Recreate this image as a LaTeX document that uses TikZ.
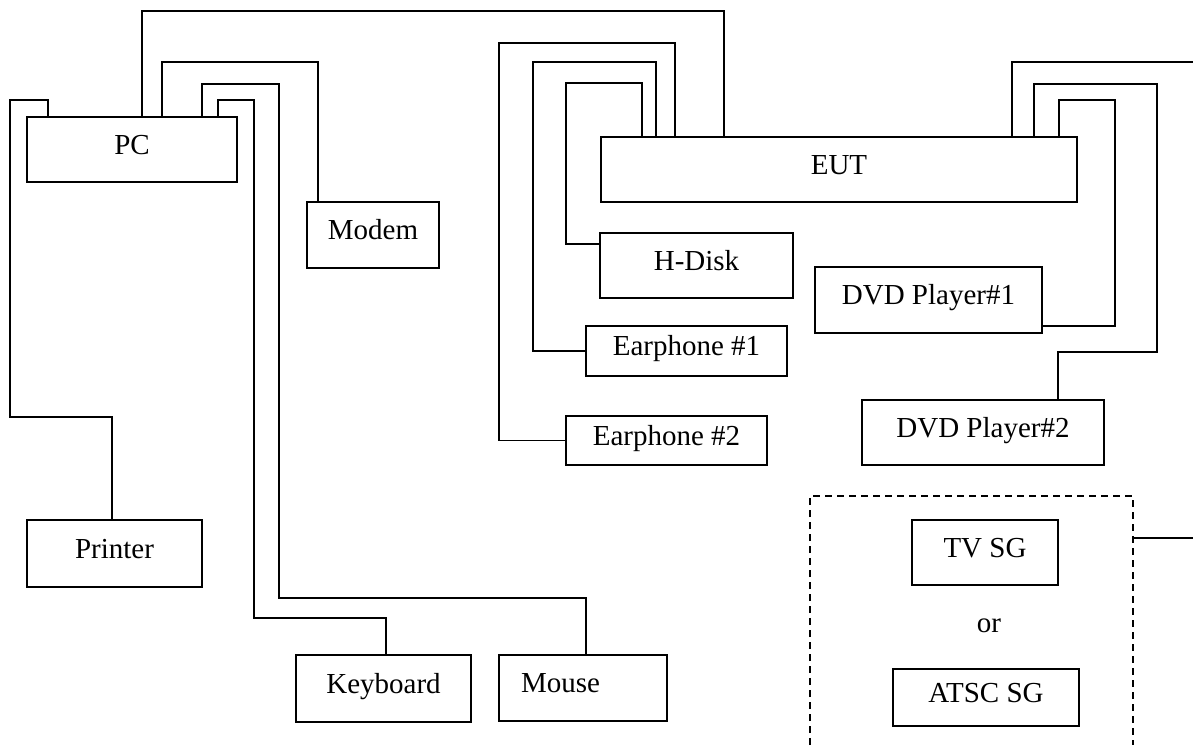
\documentclass[tikz,border=0pt]{standalone}
\usepackage{fontspec}
\setmainfont{Liberation Serif}
\tikzset{
  unit/.style={draw, line width=1pt, inner sep=0pt, text height=0.7em, text depth=0.25em},
  wire/.style={line width=0.8pt},
  frame/.style={line width=0.8pt, dash pattern=on 3.5pt off 2.5pt}
}
\begin{document}
\begin{tikzpicture}[x=0.5pt, y=-0.5pt, font=\fontsize{14.5}{17}\selectfont]
    \useasboundingbox (0,0) rectangle (1193,745);

    % PC side
    \node[unit, minimum width=105pt, minimum height=32.5pt] (pc) at (132,149.5) {PC};
    \node[unit, minimum width=66pt, minimum height=33pt] (modem) at (373,235) {Modem};
    \node[unit, minimum width=87.5pt, minimum height=33.5pt] (printer) at (114.5,553.5) {Printer};
    \node[unit, minimum width=87.5pt, minimum height=33.5pt] (keyboard) at (383.5,688.5) {Keyboard};
    \node[unit, minimum width=84pt, minimum height=33pt, text width=62pt, inner xsep=11pt, align=left] (mouse) at (583,688) {Mouse};

    % EUT and its units
    \node[unit, minimum width=238pt, minimum height=32.5pt] (eut) at (839,169.5) {EUT};
    \node[unit, minimum width=96.5pt, minimum height=32.5pt] (hdisk) at (696.5,265.5) {H-Disk};
    \node[unit, minimum width=100.5pt, minimum height=25pt] (earph1) at (686.5,351) {Earphone \#1};
    \node[unit, minimum width=100.5pt, minimum height=24.5pt] (earph2) at (666.5,440.5) {Earphone \#2};
    \node[unit, minimum width=113.5pt, minimum height=33pt] (dvd1) at (928.5,300) {DVD Player\#1};
    \node[unit, minimum width=121pt, minimum height=32.5pt] (dvd2) at (983,432.5) {DVD Player\#2};

    % signal generator (one or the other)
    \node[unit, minimum width=73pt, minimum height=32.5pt] (tvsg) at (985,552.5) {TV SG};
    \node (or) at (989,626) {or};
    \node[unit, minimum width=93pt, minimum height=28.5pt] (atsc) at (986,697.5) {ATSC SG};
    \draw[frame] (810,745) -- (810,496) -- (1133,496) -- (1133,745);
    \coordinate (sgout) at (1133,538);
    \coordinate (sgend) at (1193,538);
    \coordinate (eutend) at (1193,62);

    % cables from the PC
    \draw[wire] (48,0 |- pc.north) |- (10,100) |- (112,417) -- (112,0 |- printer.north);
    \draw[wire] (142,0 |- pc.north) |- (724,11) -- (724,0 |- eut.north);
    \draw[wire] (162,0 |- pc.north) |- (318,62) -- (318,0 |- modem.north);
    \draw[wire] (202,0 |- pc.north) |- (279,84) |- (586,598) -- (586,0 |- mouse.north);
    \draw[wire] (218,0 |- pc.north) |- (254,100) |- (386,618) -- (386,0 |- keyboard.north);

    % cables from the EUT
    \draw[wire] (675,0 |- eut.north) |- (499,43) |- (earph2.west);
    \draw[wire] (656,0 |- eut.north) |- (533,62) |- (earph1.west);
    \draw[wire] (642,0 |- eut.north) |- (566,83) |- (hdisk.west |- 0,244);
    \draw[wire] (1012,0 |- eut.north) |- (eutend);
    \draw[wire] (1034,0 |- eut.north) |- (1157,84) |- (1058,352) -- (1058,0 |- dvd2.north);
    \draw[wire] (1059,0 |- eut.north) |- (1115,100) |- (dvd1.east |- 0,326);
    \draw[wire] (sgout) -- (sgend);
\end{tikzpicture}
\end{document}
